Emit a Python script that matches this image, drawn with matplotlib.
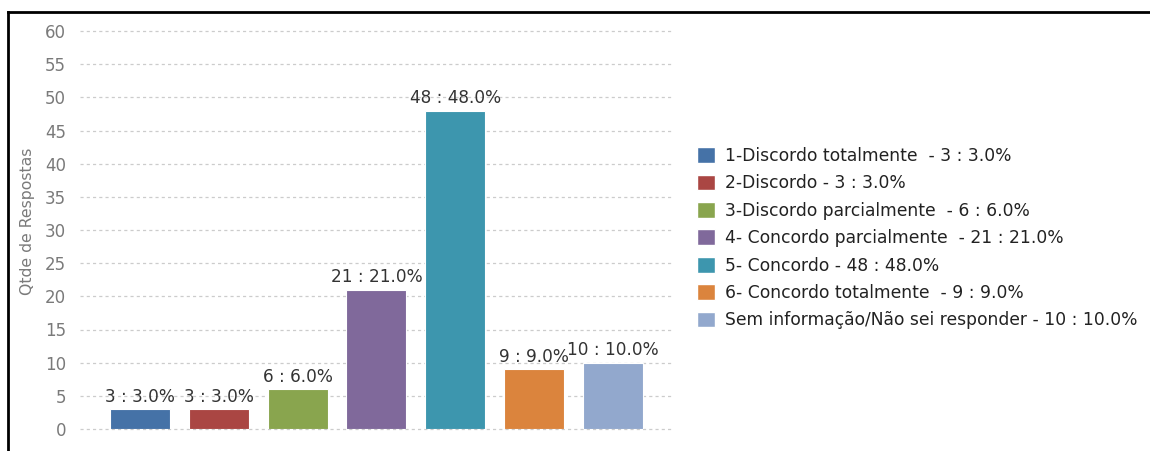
import matplotlib
matplotlib.use("Agg")
import matplotlib.pyplot as plt
from matplotlib.patches import Patch
from matplotlib.lines import Line2D

categories = ["1-Discordo totalmente ", "2-Discordo", "3-Discordo parcialmente ",
              "4- Concordo parcialmente ", "5- Concordo", "6- Concordo totalmente ",
              "Sem informação/Não sei responder"]
values = [3, 3, 6, 21, 48, 9, 10]
percents = [3.0, 3.0, 6.0, 21.0, 48.0, 9.0, 10.0]
colors = ["#4572A7", "#AA4643", "#89A54E", "#80699B", "#3D96AE", "#DB843D", "#92A8CD"]
yticks = list(range(0, 61, 5))

plt.rcParams['font.family'] = ['DejaVu Sans']
fig = plt.figure(figsize=(11.5, 4.51), dpi=100)

# axes: x 80..672 px, y 31..429 px (from top)
W, H = 1150, 451
ax = fig.add_axes([80 / W, 1 - 429 / H, (672 - 80) / W, (429 - 31) / H])
x = list(range(len(values)))
ax.bar(x, values, width=0.76, color=colors, edgecolor="white", linewidth=0.8, zorder=3)
for xi, v, p in zip(x, values, percents):
    ax.text(xi, v + 0.5, f"{v} : {p:.1f}%", ha="center", va="bottom",
            fontsize=12.2, color="#333333", zorder=4)
ax.set_ylim(0, 60)
ax.set_xlim(-0.76, 6.75)
ax.set_yticks(yticks)
ax.set_xticks([])
ax.yaxis.grid(True, linestyle=(0, (2.5, 2.5)), color="#cccccc", linewidth=0.9, zorder=0)
for gl in ax.get_ygridlines():
    gl.set_clip_on(False)
ax.tick_params(axis="y", length=0, pad=10, labelsize=12, labelcolor="#7a7a7a")
for s in ax.spines.values():
    s.set_visible(False)
ax.set_ylabel("Qtde de Respostas", fontsize=11.3, color="#7a7a7a")
ax.yaxis.set_label_coords((35 - 80) / 592, (429 - 221) / 398)

handles = [Patch(facecolor=c, edgecolor="white") for c in colors]
labels = [f"{c} - {v} : {p:.1f}%" for c, v, p in zip(categories, values, percents)]
fig.legend(handles, labels, loc="upper left", bbox_to_anchor=(697 / W, 1 - 147 / H),
           frameon=False, fontsize=12.3, labelcolor="#222222",
           handlelength=1.05, handleheight=1.05, handletextpad=0.6, labelspacing=0.55,
           borderpad=0, borderaxespad=0)

# figure border (left and top)
fig.add_artist(Line2D([8 / W, 8 / W], [0, 1 - 12 / H], transform=fig.transFigure,
                      color="black", linewidth=2))
fig.add_artist(Line2D([8 / W, 1], [1 - 12 / H, 1 - 12 / H], transform=fig.transFigure,
                      color="black", linewidth=2))

fig.savefig("out.png", dpi=100)
